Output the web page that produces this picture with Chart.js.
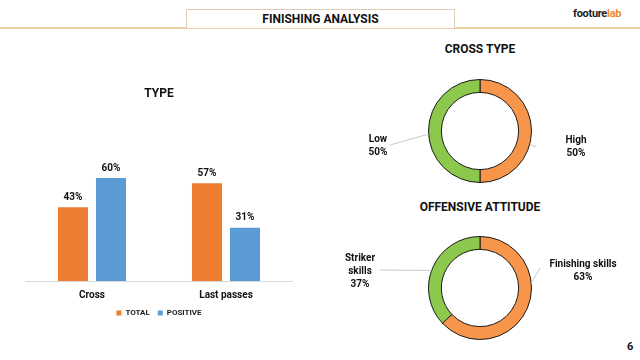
<!DOCTYPE html>
<html lang="en">
<head>
<meta charset="UTF-8">
<title>Finishing Analysis</title>
<script src="https://cdn.jsdelivr.net/npm/chart.js"></script>
<style>
body { margin: 0; width: 640px; height: 360px; background: #fff; font-family: Roboto, 'Open Sans', sans-serif; position: relative; overflow: hidden; }
.topline { position: absolute; left: 0; top: 27px; width: 640px; height: 2px; background: #f3cfa8; }
.header { position: absolute; left: 186px; top: 9px; width: 267px; height: 18px; border: 1px solid #dccdb8; border-bottom: none; background: #fff;
    text-align: center; font-weight: bold; font-size: 12px; line-height: 18px; color: #111; }
.logo { position: absolute; left: 573px; top: 7px; font-weight: bold; font-size: 11px; letter-spacing: -0.3px; color: #222; }
.logo span { color: #f08a2c; }
.page { position: absolute; left: 627px; top: 340px; font-weight: bold; font-size: 11px; color: #111; }
.ctitle { position: absolute; left: 330px; width: 300px; text-align: center; font-weight: bold; font-size: 12px; color: #111; }
canvas { position: absolute; }
</style>
</head>
<body>
<div class="topline"></div>
<div class="header">FINISHING ANALYSIS</div>
<div class="logo">footure<span>lab</span></div>
<div class="page">6</div>

<canvas id="typeChart" width="268" height="245" style="left:25px;top:82px"></canvas>
<canvas id="crossChart" width="300" height="130" style="left:330px;top:66px"></canvas>
<canvas id="attChart" width="300" height="130" style="left:330px;top:223px"></canvas>
<div class="ctitle" style="top:42px">CROSS TYPE</div>
<div class="ctitle" style="top:200px">OFFENSIVE ATTITUDE</div>

<script>
// bar chart data
const typeCategories = ['Cross', 'Last passes'];
const totalValues = [43, 57];
const positiveValues = [60, 31];

// donuts
const crossLabels = ['High', 'Low'];
const crossValues = [50, 50];
const attLabels = ['Finishing skills', 'Striker skills'];
const attValues = [63, 37];

const FONT = "Roboto, 'Open Sans', sans-serif";
Chart.defaults.font.family = FONT;
Chart.defaults.color = '#111';

// value labels above bars
const barLabels = {
    id: 'barLabels',
    afterDatasetsDraw(chart) {
        const ctx = chart.ctx;
        ctx.save();
        ctx.font = 'bold 10px ' + FONT;
        ctx.fillStyle = '#111';
        ctx.textAlign = 'center';
        ctx.textBaseline = 'middle';
        chart.data.datasets.forEach((ds, i) => {
            chart.getDatasetMeta(i).data.forEach((bar, j) => {
                ctx.fillText(ds.data[j] + '%', bar.x, bar.y - 10);
            });
        });
        ctx.restore();
    }
};

new Chart(document.getElementById('typeChart'), {
    type: 'bar',
    data: {
        labels: typeCategories,
        datasets: [
            { label: 'TOTAL', data: totalValues, backgroundColor: '#ed7d31' },
            { label: 'POSITIVE', data: positiveValues, backgroundColor: '#5b9bd5' }
        ]
    },
    options: {
        responsive: false,
        animation: false,
        categoryPercentage: 0.567,
        barPercentage: 0.79,
        layout: { padding: 0 },
        scales: {
            y: { display: false, min: 0, max: 100 },
            x: {
                grid: { display: false },
                border: { color: '#d9d9d9' },
                ticks: { font: { size: 10, weight: 'bold' }, color: '#111', padding: 0 }
            }
        },
        plugins: {
            title: { display: true, text: 'TYPE', font: { size: 12, weight: 'bold' }, color: '#111', padding: { top: 5, bottom: 8 } },
            legend: {
                position: 'bottom',
                labels: { boxWidth: 5, boxHeight: 5, font: { size: 8, weight: 'bold' }, color: '#222', padding: 8 }
            },
            tooltip: { enabled: false }
        }
    },
    plugins: [barLabels]
});

// outside labels with leader lines for donuts
const donutLabels = {
    id: 'donutLabels',
    afterDatasetsDraw(chart, args, opts) {
        const ctx = chart.ctx;
        const meta = chart.getDatasetMeta(0);
        const ds = chart.data.datasets[0];
        ctx.save();
        ctx.font = 'bold 10px ' + FONT;
        ctx.fillStyle = '#111';
        ctx.textAlign = 'center';
        ctx.textBaseline = 'middle';
        meta.data.forEach((arc, i) => {
            const p = opts.pos[i];
            const a = (arc.startAngle + arc.endAngle) / 2 + (p.shift || 0);
            const r = arc.outerRadius;
            const ex = arc.x + Math.cos(a) * r, ey = arc.y + Math.sin(a) * r;
            ctx.strokeStyle = '#c8c8c8';
            ctx.lineWidth = 1;
            ctx.beginPath();
            ctx.moveTo(ex, ey);
            ctx.lineTo(arc.x + p.lx, arc.y + p.ly);
            ctx.stroke();
            const lines = (p.lines || [chart.data.labels[i]]).concat([ds.data[i] + '%']);
            lines.forEach((t, k) => {
                ctx.fillText(t, arc.x + p.dx, arc.y + p.dy + (k - (lines.length - 1) / 2) * 13);
            });
        });
        ctx.restore();
    }
};

function donut(id, labels, values, pos) {
    return new Chart(document.getElementById(id), {
        type: 'doughnut',
        data: {
            labels: labels,
            datasets: [{ data: values, backgroundColor: ['#f7964a', '#8cc84b'], borderColor: '#1a1a1a', borderWidth: 1 }]
        },
        options: {
            responsive: false,
            animation: false,
            cutout: '75%',
            layout: { padding: { top: 13, bottom: 13 } },
            plugins: {
                legend: { display: false },
                tooltip: { enabled: false },
                donutLabels: { pos: pos }
            }
        },
        plugins: [donutLabels]
    });
}

donut('crossChart', crossLabels, crossValues, [
    { dx: 96, dy: 16, lx: 56, ly: 16, shift: 0.26 },
    { dx: -102, dy: 15, lx: -90, ly: 14, shift: -0.06 }
]);
donut('attChart', attLabels, attValues, [
    { dx: 103, dy: -17, lx: 60, ly: -20, shift: -0.5 },
    { dx: -120, dy: -17, lx: -100, ly: -18, shift: -0.06, lines: ['Striker', 'skills'] }
]);
</script>
</body>
</html>
